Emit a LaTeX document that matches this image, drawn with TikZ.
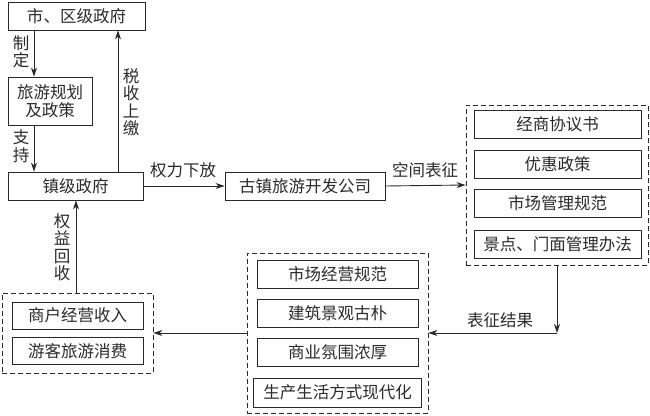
\documentclass[tikz,border=0pt]{standalone}
\usepackage{fontspec}
\setmainfont{Noto Sans CJK SC}
\usetikzlibrary{arrows.meta}
\definecolor{ink}{HTML}{2A2A2A}
\tikzset{
  box/.style={draw=ink, line width=0.9pt, rectangle, inner sep=0pt, align=center, text=ink},
  dbox/.style={draw=ink, line width=0.9pt, dash pattern=on 5pt off 3pt, rectangle, inner sep=0pt},
  arr/.style={draw=ink, line width=0.9pt, -{Stealth[length=9pt,width=6pt]}},
  lbl/.style={text=ink, inner sep=0pt, align=center},
}
\begin{document}
\begin{tikzpicture}[x=1pt,y=-1pt, font=\fontsize{16.5}{17.5}\selectfont]
\useasboundingbox (0,0) rectangle (650,415);
% top-left column
\node[box, minimum width=137pt, minimum height=28pt] (gov) at (76.5,16) {市、区级政府};
\node[box, minimum width=84pt, minimum height=48pt] (plan) at (50,101) {旅游规划\\及政策};
\node[box, minimum width=135pt, minimum height=28pt] (town) at (75.5,186) {镇级政府};
\node[box, minimum width=160pt, minimum height=28pt] (comp) at (305,186) {古镇旅游开发公司};
% right dashed group
\node[dbox, minimum width=182pt, minimum height=160pt] (R) at (557,185) {};
\node[box, minimum width=167pt, minimum height=28pt] (r1) at (557.5,124) {经商协议书};
\node[box, minimum width=167pt, minimum height=28pt] (r2) at (557.5,164) {优惠政策};
\node[box, minimum width=167pt, minimum height=28pt] (r3) at (557.5,203.5) {市场管理规范};
\node[box, minimum width=167pt, minimum height=28pt] (r4) at (557.5,244) {景点、门面管理办法};
% middle dashed group
\node[dbox, minimum width=181pt, minimum height=160pt] (M) at (337.5,333) {};
\node[box, minimum width=161pt, minimum height=28pt] (m1) at (337.5,274) {市场经营规范};
\node[box, minimum width=161pt, minimum height=28pt] (m2) at (337.5,313) {建筑景观古朴};
\node[box, minimum width=161pt, minimum height=28pt] (m3) at (337.5,352) {商业氛围浓厚};
\node[box, minimum width=168pt, minimum height=29pt] (m4) at (337.5,392.5) {生产生活方式现代化};
% left dashed group
\node[dbox, minimum width=151pt, minimum height=80pt] (L) at (77.5,333) {};
\node[box, minimum width=131pt, minimum height=27pt] (l1) at (77.5,315.5) {商户经营收入};
\node[box, minimum width=131pt, minimum height=27pt] (l2) at (77.5,351) {游客旅游消费};
% helper coordinates
\coordinate (x34) at (34,0);
\coordinate (x118) at (118,0);
\coordinate (x76) at (76,0);
\coordinate (corner) at (557,333);
% connectors
\draw[arr] (gov.south -| x34) -- (plan.north -| x34);
\draw[arr] (plan.south -| x34) -- (town.north -| x34);
\draw[arr] (town.north -| x118) -- (gov.south -| x118);
\draw[arr] (town.east) -- (comp.west);
\draw[arr] (comp.east) -- (R.west);
\draw[arr] (R.south) -- (corner);
\draw[arr] (corner) -- (M.east);
\draw[arr] (M.west) -- (L.east);
\draw[arr] (L.north -| x76) -- (town.south -| x76);
% labels
\node[lbl] (t1) at (21,52) {制\\定};
\node[lbl] (t2) at (21,146) {支\\持};
\node[lbl] (t3) at (131,102) {税\\收\\上\\缴};
\node[lbl] (t4) at (62,247) {权\\益\\回\\收};
\node[lbl] (t5) at (183,170) {权力下放};
\node[lbl] (t6) at (425,170) {空间表征};
\node[lbl] (t7) at (500,320) {表征结果};
\end{tikzpicture}
\end{document}
